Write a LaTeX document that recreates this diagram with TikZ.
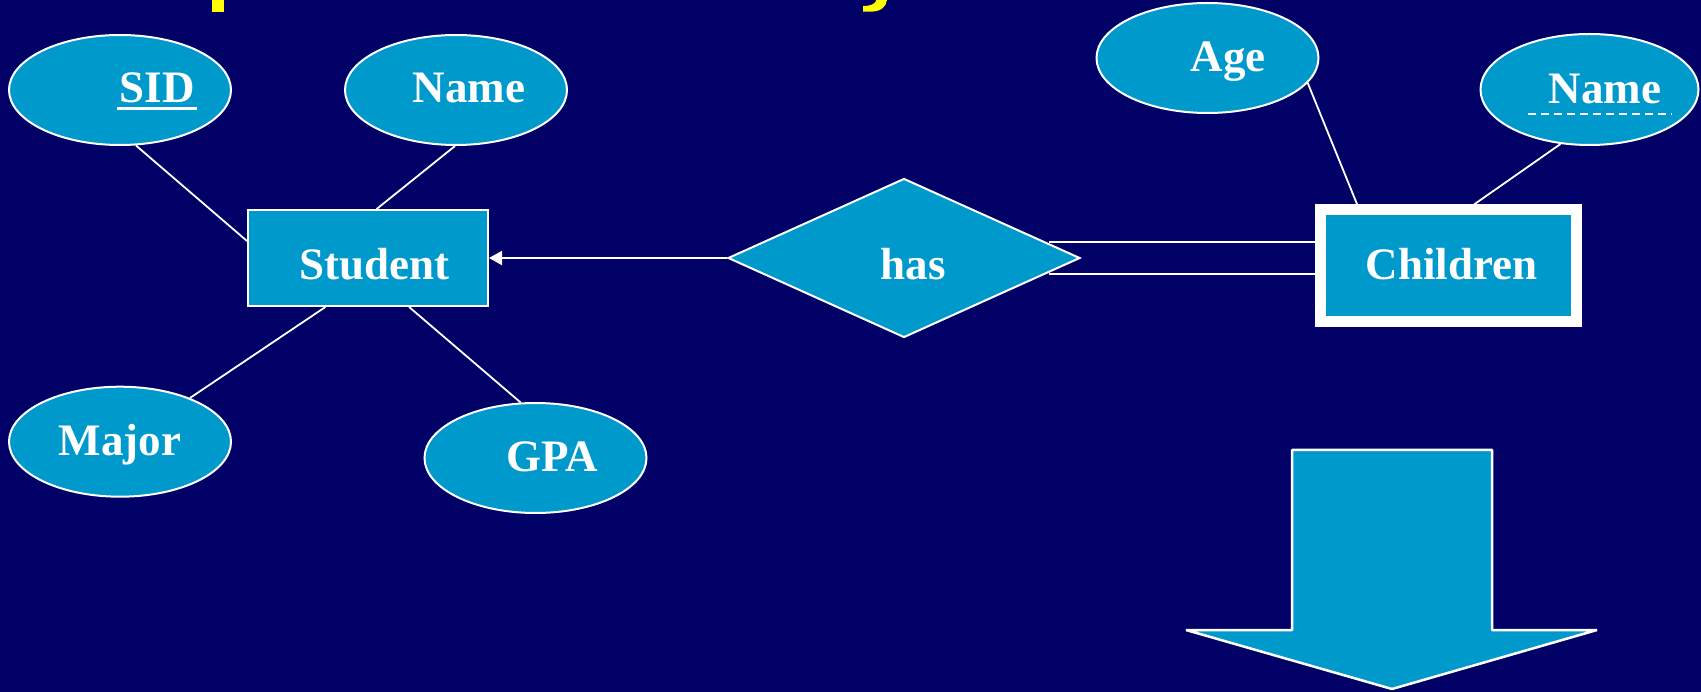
\documentclass[tikz,border=0pt]{standalone}
\usepackage{fontspec}
\setmainfont{Liberation Serif}
\usetikzlibrary{shapes.geometric,arrows.meta,calc}
\definecolor{bgnavy}{RGB}{0,0,102}
\definecolor{erteal}{RGB}{0,153,204}
\definecolor{titleyellow}{RGB}{255,255,0}
\tikzset{
  attr/.style={ellipse, draw=white, line width=2pt, fill=erteal, minimum width=222pt, minimum height=110pt, inner sep=0pt},
  ent/.style={rectangle, draw=white, line width=2pt, fill=erteal, minimum width=240pt, minimum height=96pt, inner sep=0pt},
  weakent/.style={rectangle, draw=white, line width=11pt, fill=erteal, minimum width=256pt, minimum height=111.5pt, inner sep=0pt},
  rel/.style={diamond, draw=white, line width=2pt, fill=erteal, minimum width=352pt, minimum height=159pt, inner sep=0pt},
  conn/.style={draw=white, line width=1.8pt},
  lbl/.style={text=white, font=\fontsize{45}{50}\selectfont\bfseries, inner sep=0pt, anchor=base}
}
\begin{document}
\begin{tikzpicture}[x=1pt,y=-1pt]
\useasboundingbox (0,0) rectangle (1701,692);
\fill[bgnavy] (0,0) rectangle (1701,692);
% cut-off title fragments
\fill[titleyellow] (212,0) rectangle (224.3,11.6);
\fill[titleyellow] (876.5,0) -- (887,0) .. controls (886,7) and (881,11.7) .. (870,11.7) -- (863,11.7) -- (863,6) .. controls (871,6) and (875,4) .. (876.5,0) -- cycle;

% shapes
\node[attr] (sid) at (120,90) {};
\node[attr] (namel) at (456,90) {};
\node[ent] (student) at (368,258) {};
\node[attr] (major) at (120,441.7) {};
\node[attr] (gpa) at (535.5,458) {};
\node[rel] (has) at (904,258) {};
\node[weakent] (ch) at (1448,265.75) {};
\node[attr] (age) at (1207.5,58) {};
\node[attr, minimum width=218pt, minimum height=111pt] (namer) at (1589.5,89.5) {};

% down arrow
\draw[white, line width=2.5pt, fill=erteal, line join=bevel]
  (1292,450) -- (1492,450) -- (1492,630) -- (1597,630) -- (1392,689) -- (1186,630) -- (1292,630) -- cycle;

% connectors
\draw[conn] (sid.-74) -- (student.172);
\draw[conn] (namel.-91) -- (student.80);
\draw[conn] (student.-131) -- (major.32);
\draw[conn] (student.-50) -- (gpa.105);
\draw[conn, -{Triangle[length=13pt,width=14pt]}] (has.west) -- (student.east);
\draw[conn] ($(has.east)+(-32,-16.3)$) -- ($(has.east -| ch.west)+(0,-16.3)$);
\draw[conn] ($(has.east)+(-32,16)$) -- ($(has.east -| ch.west)+(0,16)$);
\draw[conn] (age.-14) -- (ch.146);
\draw[conn] (namer.-118) -- (ch.67);

% labels
\node[lbl] (tsid) at (157,103) {SID};
\draw[white, line width=2.5pt] (117,108.3) -- (197,108.3);
\node[lbl] (tnamel) at (469,103) {Name};
\node[lbl] (tstudent) at (374.5,280) {Student};
\node[lbl] (tmajor) at (120,456) {Major};
\node[lbl] (tgpa) at (552,471.7) {GPA};
\node[lbl] (thas) at (913,279.3) {has};
\node[lbl] (tch) at (1451.5,279.3) {Children};
\node[lbl] (tage) at (1228,71.7) {Age};
\node[lbl] (tnamer) at (1605,103.3) {Name};
\draw[white, line width=2pt, dash pattern=on 8pt off 5pt] (1528,114) -- (1672,114);
\end{tikzpicture}
\end{document}
